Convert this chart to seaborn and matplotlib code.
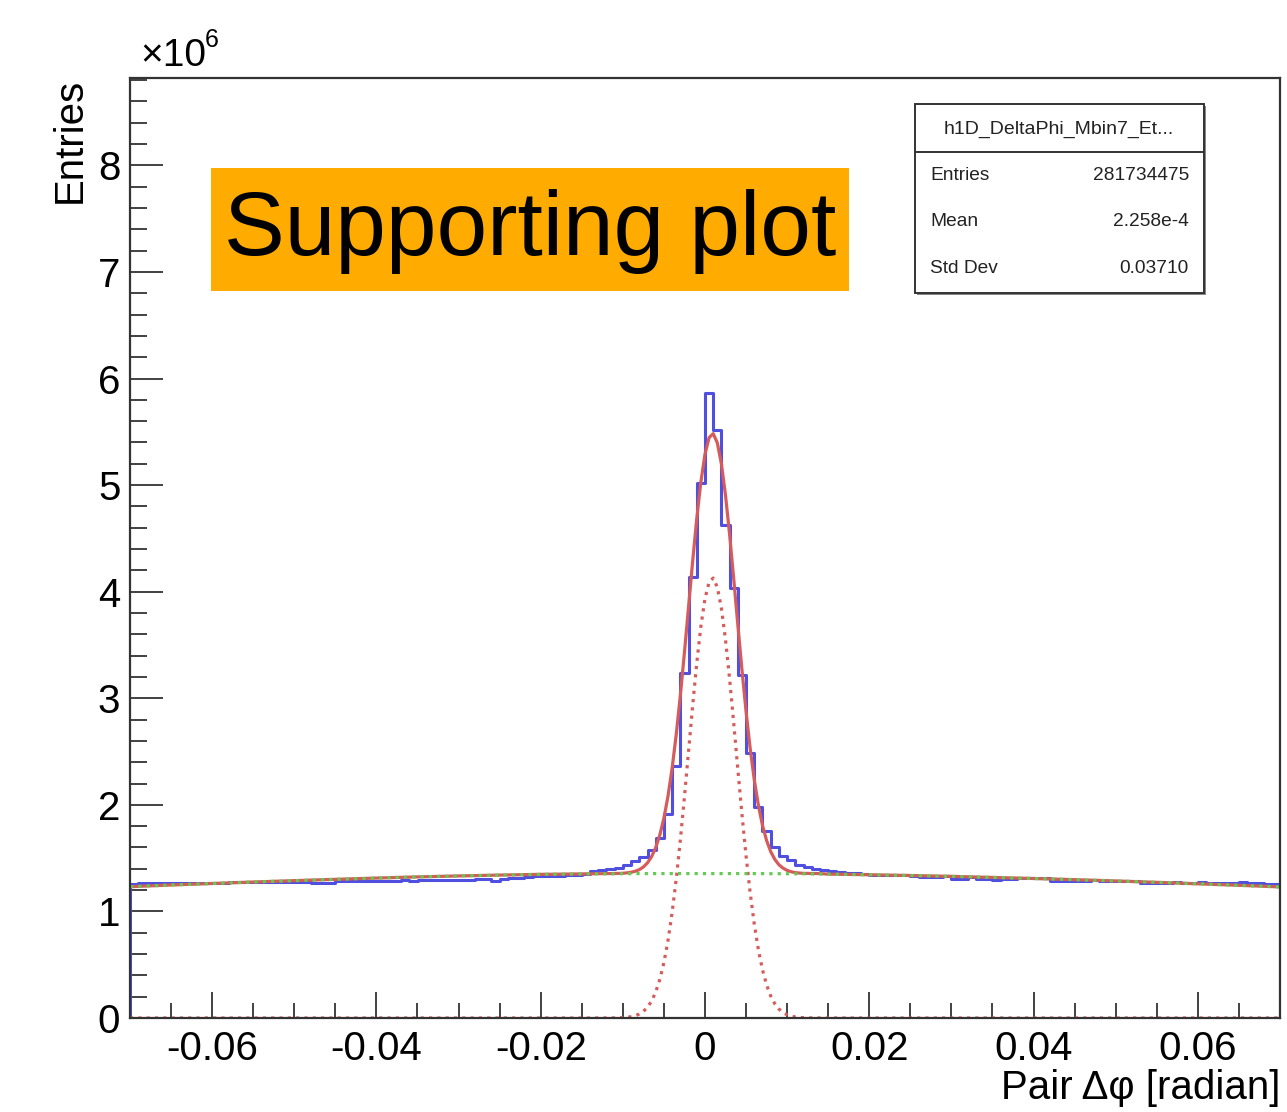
import numpy as np
import pandas as pd
import matplotlib
matplotlib.use("Agg")
import matplotlib.pyplot as plt
import seaborn as sns
from matplotlib.patches import Rectangle
from matplotlib.lines import Line2D
from matplotlib.ticker import MultipleLocator

# ---------------- data (y in units of 1e6 entries) ----------------
x_min, x_max, n_bins = -0.07, 0.07, 140
bin_counts = [
    # -0.070 .. -0.059
    1.262, 1.266, 1.265, 1.268, 1.264, 1.266, 1.267, 1.265, 1.269, 1.266, 1.268, 1.270,
    # -0.058 .. -0.046
    1.272, 1.274, 1.273, 1.275, 1.272, 1.276, 1.274, 1.277, 1.275, 1.273, 1.266, 1.265, 1.267,
    # -0.045 .. -0.035
    1.284, 1.286, 1.287, 1.285, 1.288, 1.290, 1.289, 1.287, 1.291, 1.290, 1.292,
    # -0.034 .. -0.027
    1.296, 1.297, 1.295, 1.298, 1.299, 1.297, 1.300, 1.301,
    # -0.026 .. -0.017
    1.287, 1.308, 1.310, 1.312, 1.325, 1.328, 1.330, 1.332, 1.335, 1.340,
    # -0.016 .. -0.001
    1.345, 1.355, 1.375, 1.390, 1.400, 1.410, 1.440, 1.470, 1.510, 1.580, 1.690, 1.910,
    2.360, 3.240, 4.140, 5.020,
    # 0.000 .. 0.013
    5.860, 5.520, 4.630, 4.030, 3.220, 2.490, 1.980, 1.750, 1.600, 1.520, 1.480, 1.440,
    1.420, 1.400,
    # 0.014 .. 0.025
    1.390, 1.380, 1.370, 1.362, 1.356, 1.350, 1.346, 1.343, 1.341, 1.340, 1.338, 1.336,
    # 0.026 .. 0.038
    1.322, 1.320, 1.321, 1.330, 1.300, 1.300, 1.325, 1.300, 1.302, 1.299, 1.301, 1.300,
    1.310,
    # 0.039 .. 0.052
    1.311, 1.309, 1.310, 1.286, 1.284, 1.285, 1.287, 1.290, 1.291, 1.289, 1.288, 1.290,
    1.289, 1.287,
    # 0.053 .. 0.069
    1.266, 1.264, 1.265, 1.267, 1.272, 1.271, 1.270, 1.272, 1.270, 1.271, 1.269, 1.270,
    1.272, 1.270, 1.268, 1.258, 1.256,
]

fit_x = [-0.070, -0.065, -0.060, -0.055, -0.050, -0.045, -0.040, -0.035, -0.030, -0.025,
         -0.020, -0.015,
         -0.0120, -0.0115, -0.0110, -0.0105, -0.0100, -0.0095, -0.0090, -0.0085, -0.0080,
         -0.0075, -0.0070, -0.0065, -0.0060, -0.0055, -0.0050, -0.0045, -0.0040, -0.0035,
         -0.0030, -0.0025, -0.0020, -0.0015, -0.0010, -0.0005, 0.0000, 0.0005, 0.0010,
         0.0015, 0.0020, 0.0025, 0.0030, 0.0035, 0.0040, 0.0045, 0.0050, 0.0055, 0.0060,
         0.0065, 0.0070, 0.0075, 0.0080, 0.0085, 0.0090, 0.0095, 0.0100, 0.0105, 0.0110,
         0.0115, 0.0120, 0.0130, 0.0140,
         0.015, 0.020, 0.025, 0.030, 0.035, 0.040, 0.045, 0.050, 0.055, 0.060, 0.065, 0.070]
fit_total = [1.232, 1.248, 1.262, 1.276, 1.289, 1.301, 1.313, 1.324, 1.333, 1.341,
             1.348, 1.352,
             1.355, 1.355, 1.356, 1.357, 1.358, 1.362, 1.367, 1.377, 1.392,
             1.417, 1.456, 1.514, 1.599, 1.717, 1.876, 2.084, 2.346, 2.661,
             3.027, 3.432, 3.860, 4.287, 4.688, 5.031, 5.291, 5.446, 5.483,
             5.397, 5.198, 4.902, 4.533, 4.118, 3.687, 3.266, 2.875, 2.529, 2.235,
             1.995, 1.807, 1.665, 1.561, 1.488, 1.438, 1.406, 1.385, 1.372, 1.364,
             1.360, 1.357, 1.356, 1.355,
             1.350, 1.344, 1.337, 1.329, 1.319, 1.309, 1.298, 1.286, 1.273, 1.259, 1.245, 1.230]
fit_signal = [0.0, 0.0, 0.0, 0.0, 0.0, 0.0, 0.0, 0.0, 0.0, 0.0,
              0.0, 0.0,
              0.0002, 0.0004, 0.0009, 0.0018, 0.0035, 0.0067, 0.0122, 0.0216, 0.0372,
              0.062, 0.101, 0.159, 0.244, 0.362, 0.521, 0.729, 0.991, 1.306,
              1.672, 2.077, 2.505, 2.932, 3.333, 3.676, 3.936, 4.091, 4.128,
              4.042, 3.843, 3.547, 3.178, 2.763, 2.332, 1.911, 1.520, 1.174, 0.880,
              0.640, 0.452, 0.310, 0.206, 0.133, 0.084, 0.051, 0.030, 0.017, 0.0096,
              0.0052, 0.0027, 0.0007, 0.0002,
              0.0, 0.0, 0.0, 0.0, 0.0, 0.0, 0.0, 0.0, 0.0, 0.0, 0.0, 0.0]
fit_background = [1.232, 1.248, 1.262, 1.276, 1.289, 1.301, 1.313, 1.324, 1.333, 1.341,
                  1.348, 1.352,
                  1.353, 1.353, 1.353, 1.354, 1.354, 1.354, 1.354, 1.355, 1.355,
                  1.355, 1.355, 1.355, 1.355, 1.355, 1.355, 1.355, 1.355, 1.355,
                  1.355, 1.355, 1.355, 1.355, 1.355, 1.355, 1.355, 1.355, 1.355,
                  1.355, 1.355, 1.355, 1.355, 1.355, 1.355, 1.355, 1.355, 1.355, 1.355,
                  1.355, 1.355, 1.355, 1.354, 1.354, 1.354, 1.354, 1.354, 1.353, 1.353,
                  1.353, 1.353, 1.352, 1.351,
                  1.350, 1.344, 1.337, 1.329, 1.319, 1.309, 1.298, 1.286, 1.273, 1.259, 1.245, 1.230]

x_ticks = [-0.06, -0.04, -0.02, 0.0, 0.02, 0.04, 0.06]
x_tick_labels = ["-0.06", "-0.04", "-0.02", "0", "0.02", "0.04", "0.06"]
y_ticks = [0, 1, 2, 3, 4, 5, 6, 7, 8]
y_tick_labels = ["0", "1", "2", "3", "4", "5", "6", "7", "8"]

stats_title = "h1D_DeltaPhi_Mbin7_Et..."
stats_names = ["Entries", "Mean", "Std Dev"]
stats_values = ["281734475", "2.258e-4", "0.03710"]

# ---------------- style ----------------
sns.set_style("white")
plt.rcParams["font.family"] = ["Liberation Sans", "DejaVu Sans"]
plt.rcParams["axes.unicode_minus"] = False
plt.rcParams["text.color"] = "black"
plt.rcParams["axes.labelcolor"] = "black"
plt.rcParams["xtick.labelcolor"] = "black"
plt.rcParams["ytick.labelcolor"] = "black"

W, H = 1287, 1112
fig = plt.figure(figsize=(W / 100, H / 100), dpi=100)
ax_l, ax_r, ax_t, ax_b = 130, 1280, 78, 1018
ax = fig.add_axes([ax_l / W, 1 - ax_b / H, (ax_r - ax_l) / W, (ax_b - ax_t) / H])

blue = "#4f4fe0"
red = "#d65c5c"
green = "#62cc52"

assert len(bin_counts) == n_bins
bin_width = (x_max - x_min) / n_bins
edges = np.linspace(x_min, x_max, n_bins + 1)
centers = 0.5 * (edges[:-1] + edges[1:])
hist_df = pd.DataFrame({"x": centers, "w": bin_counts})

sns.histplot(data=hist_df, x="x", weights="w", binwidth=bin_width,
             binrange=(x_min, x_max), element="step",
             fill=False, color=blue, linewidth=2.2, ax=ax)
ax.vlines([edges[0], edges[-1]], 0, [bin_counts[0], bin_counts[-1]],
          color=blue, linewidth=2.2)

fit_df = pd.DataFrame({"x": fit_x, "total": fit_total, "sig": fit_signal,
                       "bkg": fit_background})
sns.lineplot(data=fit_df, x="x", y="total", color=red, linewidth=2.3,
             estimator=None, sort=False, ax=ax)
sns.lineplot(data=fit_df, x="x", y="sig", color=red, linewidth=2.3,
             linestyle=(0, (1.0, 1.6)), estimator=None, sort=False, ax=ax)
sns.lineplot(data=fit_df, x="x", y="bkg", color=green, linewidth=2.3,
             linestyle=(0, (1.0, 1.6)), estimator=None, sort=False, ax=ax)

ax.set_xlim(x_min, x_max)
ax.set_ylim(0, 8.82)

ax.set_xticks(x_ticks)
ax.set_xticklabels(x_tick_labels)
ax.set_yticks(y_ticks)
ax.set_yticklabels(y_tick_labels)
ax.xaxis.set_minor_locator(MultipleLocator(0.005))
ax.yaxis.set_minor_locator(MultipleLocator(0.2))
tick_col = "#333333"
ax.tick_params(axis="x", which="major", direction="in", length=19, width=1.3,
               color=tick_col, labelsize=29, pad=9, top=False, bottom=True)
ax.tick_params(axis="x", which="minor", direction="in", length=10.5, width=1.3,
               color=tick_col, top=False, bottom=True)
ax.tick_params(axis="y", which="major", direction="in", length=24, width=1.3,
               color=tick_col, labelsize=29, pad=7, left=True, right=False)
ax.tick_params(axis="y", which="minor", direction="in", length=12, width=1.3,
               color=tick_col, left=True, right=False)
for s in ax.spines.values():
    s.set_visible(True)
    s.set_color("#333333")
    s.set_linewidth(1.6)

ax.set_xlabel("Pair Δφ [radian]", fontsize=29, loc="right")
ax.xaxis.set_label_coords(1.0, -0.054)
ax.set_ylabel("Entries", fontsize=29, loc="top")
ax.yaxis.set_label_coords(-0.036, 1.0)

# exponent label
fig.text(140 / W, 1 - 66 / H, "×10", fontsize=28, ha="left", va="baseline")
fig.text(205 / W, 1 - 47 / H, "6", fontsize=18, ha="left", va="baseline")

# "Supporting plot" banner
fig.add_artist(Rectangle((211 / W, 1 - 291 / H), (849 - 211) / W, (291 - 168) / H,
                         transform=fig.transFigure, facecolor="#ffab00",
                         edgecolor="none", zorder=5))
fig.text(530 / W, 1 - 232 / H, "Supporting plot", fontsize=65.5, ha="center",
         va="center", color="black", zorder=6)

# stats box
bx0, bx1, by0, by1 = 915, 1204, 104, 293
fig.add_artist(Rectangle((bx0 / W + 2 / W, 1 - (by1 + 2) / H), (bx1 - bx0) / W,
                         (by1 - by0) / H, transform=fig.transFigure,
                         facecolor="#888888", edgecolor="none", zorder=5))
fig.add_artist(Rectangle((bx0 / W, 1 - by1 / H), (bx1 - bx0) / W, (by1 - by0) / H,
                         transform=fig.transFigure, facecolor="white",
                         edgecolor="#333333", linewidth=1.4, zorder=6))
fig.add_artist(Line2D([bx0 / W, bx1 / W], [1 - 152 / H, 1 - 152 / H],
                      transform=fig.transFigure, color="#333333", linewidth=1.4,
                      zorder=7))
fig.text(1059 / W, 1 - 129 / H, stats_title, fontsize=14, ha="center", va="center",
         color="#222222", zorder=8)
for name, val, yy in zip(stats_names, stats_values, [175, 221, 268]):
    fig.text(930 / W, 1 - yy / H, name, fontsize=13.8, ha="left", va="center",
             color="#222222", zorder=8)
    fig.text(1189 / W, 1 - yy / H, val, fontsize=13.8, ha="right", va="center",
             color="#222222", zorder=8)

fig.savefig("out.png", dpi=100, facecolor="white")
